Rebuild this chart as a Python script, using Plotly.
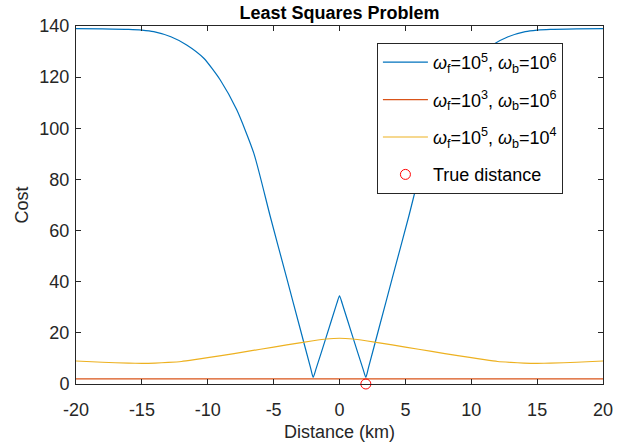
import plotly.graph_objects as go

# ---- data ----
blue_x = [-20, -18, -16, -15, -14.1, -12.8, -11.6, -10.3, -9.05, -7.8, -6.5, -5.25, -4, -3, -2.2, -2, -1.8, -1, -0.2, 0,
          0.2, 1, 1.8, 2, 2.2, 3, 4, 5.25, 6.5, 7.8, 9.05, 10.3, 11.6, 12.8, 14.1, 15, 16, 18, 20]
blue_y = [139.0, 138.9, 138.7, 138.4, 137.8, 135.8, 132.6, 127.4, 118.9, 107.2, 90.2, 65.4, 41.3, 21.9, 6.4, 2.6, 5.6, 18.5, 31.6, 34.5,
          31.6, 18.5, 5.6, 2.6, 6.4, 21.9, 41.3, 65.4, 90.2, 107.2, 118.9, 127.4, 132.6, 135.8, 137.8, 138.4, 138.7, 138.9, 139.0]

red_x = [-20, 20]
red_y = [2.0, 2.0]

yellow_x = [-20, -18, -16, -15, -14, -13, -12, -11, -10, -8, -6, -4, -2, -1, 0,
            1, 2, 4, 6, 8, 10, 11, 12, 13, 14, 15, 16, 18, 20]
yellow_y = [9.0, 8.5, 8.15, 8.1, 8.2, 8.45, 8.8, 9.5, 10.3, 11.9, 13.6, 15.3, 16.9, 17.6, 17.9,
            17.6, 16.9, 15.3, 13.6, 11.9, 10.3, 9.5, 8.8, 8.45, 8.2, 8.1, 8.15, 8.5, 9.0]

true_x = [2]
true_y = [0]

x_ticks = [-20, -15, -10, -5, 0, 5, 10, 15, 20]
x_tick_text = ["-20", "-15", "-10", "-5", "0", "5", "10", "15", "20"]
y_ticks = [0, 20, 40, 60, 80, 100, 120, 140]

names = [
    "<i>ω</i><sub>f</sub>=10<sup>5</sup>, <i>ω</i><sub>b</sub>=10<sup>6</sup>",
    "<i>ω</i><sub>f</sub>=10<sup>3</sup>, <i>ω</i><sub>b</sub>=10<sup>6</sup>",
    "<i>ω</i><sub>f</sub>=10<sup>5</sup>, <i>ω</i><sub>b</sub>=10<sup>4</sup>",
    "True distance",
]

FONT = "Liberation Sans, Arial, sans-serif"
AX = "#262626"
FS = 18

fig = go.Figure()
fig.add_trace(go.Scatter(x=blue_x, y=blue_y, mode="lines", name=names[0], legendgroup="a",
                         line=dict(color="#0072BD", width=1.2, shape="spline", smoothing=0.6)))
fig.add_trace(go.Scatter(x=red_x, y=red_y, mode="lines", name=names[1], legendgroup="b",
                         line=dict(color="#D95319", width=1.1)))
fig.add_trace(go.Scatter(x=yellow_x, y=yellow_y, mode="lines", name=names[2], legendgroup="c",
                         line=dict(color="#EDB120", width=1.2, shape="spline", smoothing=0.6)))
fig.add_trace(go.Scatter(x=true_x, y=true_y, mode="markers", name=names[3], legendgroup="d",
                         cliponaxis=False,
                         marker=dict(symbol="circle-open", color="#FF0000", size=10,
                                     line=dict(width=1))))

axis_common = dict(showline=True, linecolor=AX, linewidth=1, mirror="ticks",
                   ticks="inside", ticklen=5, tickcolor=AX, tickwidth=1,
                   showgrid=False, zeroline=False, automargin=False,
                   ticklabeloverflow="allow",
                   tickfont=dict(family=FONT, size=FS, color=AX))

fig.update_layout(
    width=624, height=443,
    margin=dict(l=76, r=21, t=26, b=59),
    paper_bgcolor="white", plot_bgcolor="white",
    font=dict(family=FONT, size=FS, color=AX),
    title=dict(text="<b>Least Squares Problem</b>", x=0.5, xanchor="center",
               y=1 - 13 / 443, yanchor="middle", xref="paper",
               font=dict(family=FONT, size=FS, color="black")),
    xaxis=dict(range=[-20, 20], tickvals=x_ticks, ticktext=x_tick_text,
               ticklabelstandoff=9,
               title=dict(text="Distance (km)", standoff=6,
                          font=dict(family=FONT, size=FS, color=AX)), **axis_common),
    yaxis=dict(range=[0, 140], tickvals=y_ticks, ticklabelstandoff=2,
               title=dict(text="Cost", standoff=6,
                          font=dict(family=FONT, size=FS, color=AX)), **axis_common),
    legend=dict(x=0.571, y=0.9525, xanchor="left", yanchor="top",
                bgcolor="white", bordercolor=AX, borderwidth=1,
                font=dict(family=FONT, size=FS, color="black"),
                itemwidth=45, tracegroupgap=11),
    showlegend=True,
)

fig.write_html("out.html", config={"displayModeBar": False},
               post_script="document.body.style.margin='0';")
